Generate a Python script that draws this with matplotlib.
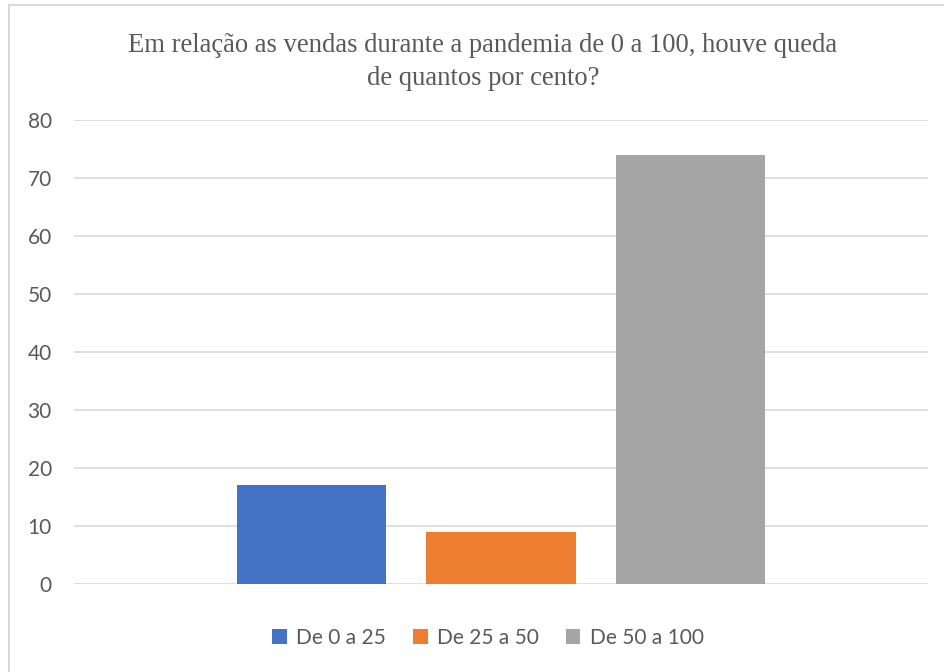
import matplotlib.pyplot as plt
from matplotlib.patches import Rectangle

# ===== Data =====
title = "Em relação as vendas durante a pandemia de 0 a 100, houve queda\nde quantos por cento?"
series = ["De 0 a 25", "De 25 a 50", "De 50 a 100"]
values = [17, 9, 74]
colors = ["#4472C4", "#ED7D31", "#A5A5A5"]
y_ticks = [0, 10, 20, 30, 40, 50, 60, 70, 80]

# Excel-like clustered column layout (one category, three series, with overlap gap)
bar_w = 0.1745
step = 0.222
n = len(series)

fig = plt.figure(figsize=(9.44, 6.72), dpi=100)
ax = fig.add_axes([74 / 944, 88 / 672, 854 / 944, 464 / 672])

for i, (name, val, col) in enumerate(zip(series, values, colors)):
    x = (i - (n - 1) / 2) * step
    ax.bar(x, val, width=bar_w, color=col, label=name, zorder=3)

ax.set_xlim(-0.5, 0.5)
ax.set_ylim(0, 80)
ax.set_yticks(y_ticks)
ax.set_xticks([])
ax.grid(axis="y", color="#d9d9d9", linewidth=1.2, zorder=0)
for s in ax.spines.values():
    s.set_visible(False)
ax.tick_params(axis="y", length=0, pad=16, labelsize=15, labelcolor="#595959")
for lbl in ax.get_yticklabels():
    lbl.set_family("Lato")

fig.text(483 / 944, 1 - 62 / 672, title, ha="center", va="center",
         family="Liberation Serif", fontsize=19.2, color="#595959", linespacing=1.45)

fig.legend(loc="center", bbox_to_anchor=(488 / 944, 1 - 638 / 672), ncol=3,
           frameon=False, handlelength=0.7, handleheight=0.7, handletextpad=0.45,
           columnspacing=1.3, prop={"family": "Lato", "size": 15},
           labelcolor="#595959")

# light chart border (only top and left are inside the picture)
fig.add_artist(Rectangle((9 / 944, -0.05), 1.0, 1.05 - 5 / 672,
                         transform=fig.transFigure, fill=False,
                         edgecolor="#d9d9d9", linewidth=1.5))

plt.savefig("out.png", dpi=100)
plt.close()
